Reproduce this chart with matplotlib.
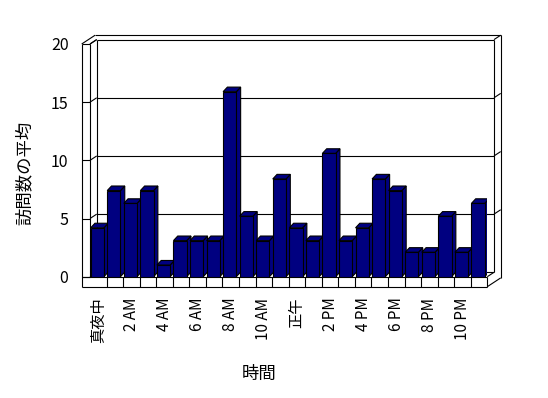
import matplotlib
matplotlib.use("Agg")
import matplotlib.pyplot as plt
from matplotlib.patches import Polygon

plt.rcParams['font.family'] = ['Noto Sans CJK JP', 'DejaVu Sans']

# 時間ごとの平均訪問数
hours = list(range(24))
visits = [4.2, 7.4, 6.3, 7.4, 1.0, 3.1, 3.1, 3.1, 15.9, 5.2, 3.1, 8.4,
          4.2, 3.1, 10.6, 3.1, 4.2, 8.4, 7.4, 2.1, 2.1, 5.2, 2.1, 6.3]
tick_pos = [0, 2, 4, 6, 8, 10, 12, 14, 16, 18, 20, 22]
tick_labels = ['真夜中', '2 AM', '4 AM', '6 AM', '8 AM', '10 AM',
               '正午', '2 PM', '4 PM', '6 PM', '8 PM', '10 PM']
y_ticks = [0, 5, 10, 15, 20]

fig = plt.figure(figsize=(5.48, 3.98), dpi=100)
# front plane of the 3D box
ax = fig.add_axes([90 / 548, (398 - 276.7) / 398, 397.3 / 548, 232.7 / 398])
ax.set_xlim(-0.5, 23.5)
ax.set_ylim(0, 20)
for s in ax.spines.values():
    s.set_visible(False)

sx = 397.3 / 24   # px per category
sy = 232.7 / 20   # px per unit

# depth offsets (px -> data)
dwx, dwy = 6.7 / sx, 4.4 / sy     # wall depth
dbx, dby = 4.3 / sx, 4.6 / sy     # bar depth
t = 8.3 / sx                      # left wall thickness
f = 10 / sy                       # floor thickness

kw = dict(color='black', lw=0.8, clip_on=False, zorder=1, solid_capstyle='butt')
x0 = -0.5
xo = x0 - t
xr = 23.5

# left wall and top
ax.plot([xo, xo], [-f, 20], **kw)
ax.plot([x0, x0], [0, 20], **kw)
ax.plot([xo, xo + 2 * dwx], [20, 20 + 2 * dwy], **kw)
ax.plot([x0, x0 + dwx], [20, 20 + dwy], **kw)
ax.plot([xo + 2 * dwx, xr + 2 * dwx], [20 + 2 * dwy] * 2, **kw)
ax.plot([x0 + dwx, x0 + dwx], [dwy, 20 + dwy], **kw)

# gridlines / ticks
for v in y_ticks:
    ax.plot([xo, x0], [v, v], **kw)
    ax.plot([x0, x0 + dwx], [v, v + dwy], **kw)
    ax.plot([x0 + dwx, xr + dwx], [v + dwy] * 2, **kw)
    if v > 0:
        ax.plot([xr + dwx, xr + 2 * dwx], [v + dwy, v + 2 * dwy], **kw)

# right side of back wall
ax.plot([xr + dwx, xr + dwx], [dwy, 20 + dwy], **kw)
ax.plot([xr + 2 * dwx, xr + 2 * dwx], [-f + 2 * dwy, 20 + 2 * dwy], **kw)

# floor
ax.plot([xo, xr], [0, 0], **kw)
ax.plot([xo, xr], [-f, -f], **kw)
ax.plot([xr, xr], [-f, 0], **kw)
ax.plot([xr, xr + dwx], [0, dwy], **kw)
ax.plot([xr, xr + 2 * dwx], [-f, -f + 2 * dwy], **kw)
for k in range(23):
    ax.plot([k + 0.5, k + 0.5], [-f, 0], **kw)

# bars
navy = '#000080'
lefts = [h - 0.46 for h in hours]
ax.bar(lefts, visits, width=0.8, align='edge', color=navy,
       edgecolor='black', linewidth=0.8, zorder=3)
for l, v in zip(lefts, visits):
    r = l + 0.8
    side = [(r, 0), (r, v), (r + dbx, v + dby), (r + dbx, dby)]
    top = [(l, v), (r, v), (r + dbx, v + dby), (l + dbx, v + dby)]
    for pts in (side, top):
        ax.add_patch(Polygon(pts, closed=True, facecolor=navy,
                             edgecolor='black', linewidth=0.8, zorder=2.5))

ax.set_yticks(y_ticks)
ax.set_yticklabels([str(v) for v in y_ticks], fontsize=11.5)
ax.set_xticks(tick_pos)
ax.set_xticklabels(tick_labels, rotation=90, fontsize=11)
ax.tick_params(axis='y', length=0, pad=15.5)
ax.tick_params(axis='x', length=0, pad=15)

fig.text(25 / 548, 1 - 173 / 398, '訪問数の平均', rotation=90,
         ha='center', va='center', fontsize=12.5)
fig.text(259 / 548, 1 - 374 / 398, '時間', ha='center', va='center',
         fontsize=12.5)

fig.savefig('out.png', dpi=100)
